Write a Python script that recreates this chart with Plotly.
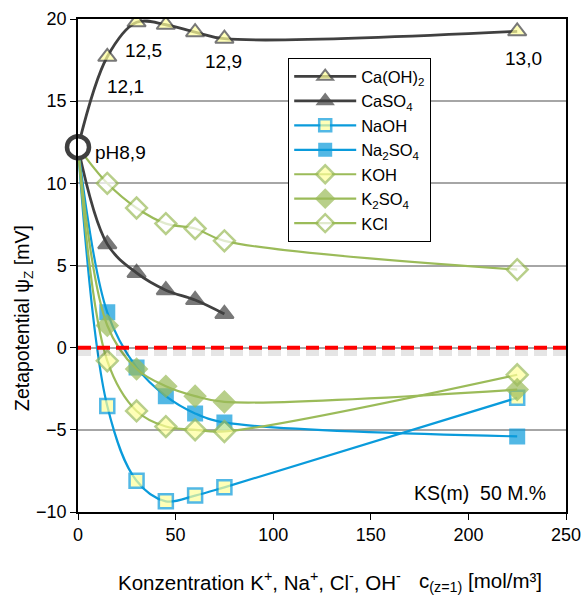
import plotly.graph_objects as go

x_vals = [0, 15, 30, 45, 60, 75, 225]
x_short = [0, 15, 30, 45, 60, 75]
start_val = 12.2

caoh2 = [start_val, 17.7, 19.8, 19.65, 19.2, 18.8, 19.25]
caso4 = [start_val, 6.3, 4.55, 3.5, 2.9, 2.05]
naoh = [start_val, -3.55, -8.1, -9.35, -9.0, -8.5, -3.05]
na2so4 = [start_val, 2.15, -1.2, -2.95, -4.0, -4.55, -5.4]
koh = [start_val, -0.8, -3.85, -4.8, -5.0, -5.1, -1.65]
k2so4 = [start_val, 1.35, -1.3, -2.35, -2.95, -3.3, -2.55]
kcl = [start_val, 10.0, 8.5, 7.55, 7.25, 6.5, 4.75]

ph_labels = ["12,1", "12,5", "12,9", "13,0"]

GRAY = "#404040"
BLUE = "#0A9BDB"
GREEN = "#9BBB59"
YEL = "#FFFF99"
FONT = "Liberation Sans, Arial, sans-serif"

fig = go.Figure()

def add(name, xs, ys, color, symbol, fill, lw=2.2, ms=13, mlw=2):
    sizes = [0] + [ms] * (len(xs) - 1)
    fig.add_trace(go.Scatter(
        x=xs, y=ys, name=name, mode="lines+markers",
        line=dict(color=color, width=lw, shape="spline", smoothing=1.0),
        marker=dict(symbol=symbol, size=sizes, color=fill,
                    line=dict(color=color, width=mlw)),
    ))

add("Ca(OH)<sub>2</sub>", x_vals, caoh2, GRAY, "triangle-up", YEL, lw=2.8, ms=16)
add("CaSO<sub>4</sub>", x_short, caso4, GRAY, "triangle-up", GRAY, lw=2.8, ms=16)
add("NaOH", x_vals, naoh, BLUE, "square", YEL, lw=2.2, ms=14, mlw=2.5)
add("Na<sub>2</sub>SO<sub>4</sub>", x_vals, na2so4, BLUE, "square", BLUE, lw=2.2, ms=14)
add("KOH", x_vals, koh, GREEN, "diamond", YEL, lw=2.2, ms=16, mlw=2.5)
add("K<sub>2</sub>SO<sub>4</sub>", x_vals, k2so4, GREEN, "diamond", GREEN, lw=2.2, ms=16)
add("KCl", x_vals, kcl, GREEN, "diamond", "white", lw=2.2, ms=16, mlw=2.5)

# start circle
fig.add_trace(go.Scatter(
    x=[0], y=[start_val], mode="markers", showlegend=False, cliponaxis=False,
    marker=dict(symbol="circle", size=22, color="white", line=dict(color=GRAY, width=4.5)),
))

# zero line shadow + red dashed
fig.add_shape(type="line", xref="paper", yref="y", x0=0, x1=1, y0=-0.3, y1=-0.3,
              line=dict(color="rgba(0,0,0,0.10)", width=7, dash="13px,6px"), layer="above")
fig.add_shape(type="line", xref="paper", yref="y", x0=0, x1=1, y0=0, y1=0,
              line=dict(color="#FF0000", width=4, dash="13px,6px"), layer="above")

lab_font = dict(size=19, color="black", family=FONT)
annots = [
    dict(x=13.8, y=15.9, text=ph_labels[0], showarrow=False, xanchor="left", font=lab_font),
    dict(x=23, y=18.1, text=ph_labels[1], showarrow=False, xanchor="left", font=lab_font),
    dict(x=64, y=17.4, text=ph_labels[2], showarrow=False, xanchor="left", font=lab_font),
    dict(x=228, y=17.6, text=ph_labels[3], showarrow=False, xanchor="center", font=lab_font),
    dict(x=7.7, y=11.9, text="pH8,9", showarrow=False, xanchor="left", font=lab_font),
    dict(x=171, y=-8.85, text="KS(m)  50 M.%", showarrow=False, xanchor="left",
         font=dict(size=19.5, color="black", family=FONT)),
    dict(xref="paper", yref="paper", x=(259 - 78) / 488, y=(512 - 581) / 493,
         text="Konzentration K<sup>+</sup>, Na<sup>+</sup>, Cl<sup>-</sup>, OH<sup>-</sup>",
         showarrow=False, xanchor="center", yanchor="middle",
         font=dict(size=20.5, color="black", family=FONT)),
    dict(xref="paper", yref="paper", x=(417 - 78) / 488, y=(512 - 582) / 493,
         text="c<sub>(z=1)</sub> [mol/m³]",
         showarrow=False, xanchor="left", yanchor="middle",
         font=dict(size=20.5, color="black", family=FONT)),
    dict(xref="paper", yref="paper", x=(23 - 78) / 488, y=(512 - 318) / 493,
         text="Zetapotential ψ<sub>Z</sub> [mV]", textangle=-90,
         showarrow=False, xanchor="center", yanchor="middle",
         font=dict(size=19.5, color="black", family=FONT)),
]

fig.update_layout(
    width=582, height=599,
    margin=dict(l=78, r=16, t=19, b=87, autoexpand=False),
    plot_bgcolor="white", paper_bgcolor="white",
    font=dict(family=FONT, size=18, color="black"),
    annotations=annots,
    legend=dict(x=(288 - 78) / 488, y=(512 - 58) / 493, xanchor="left", yanchor="top",
                bgcolor="white", bordercolor="black", borderwidth=1.2,
                font=dict(size=16.5, family=FONT), tracegroupgap=0, itemwidth=62),
    xaxis=dict(range=[0, 250], tickvals=[0, 50, 100, 150, 200, 250], automargin=False,
               showgrid=False, zeroline=False, showline=True, linecolor="black",
               linewidth=1.5, mirror=True, ticks="outside", ticklen=6, tickcolor="black",
               tickfont=dict(size=18)),
    yaxis=dict(range=[-10, 20], tickvals=[-10, -5, 0, 5, 10, 15, 20], automargin=False,
               showgrid=True, gridcolor="#A6A6A6", gridwidth=1.5, zeroline=False,
               showline=True, linecolor="black", linewidth=1.5, mirror=True,
               ticks="outside", ticklen=6, tickcolor="black", tickfont=dict(size=18)),
)

fig.write_html("out.html", config={"displayModeBar": False},
               post_script="document.body.style.margin='0';document.body.style.padding='0';document.body.style.overflow='hidden';")
